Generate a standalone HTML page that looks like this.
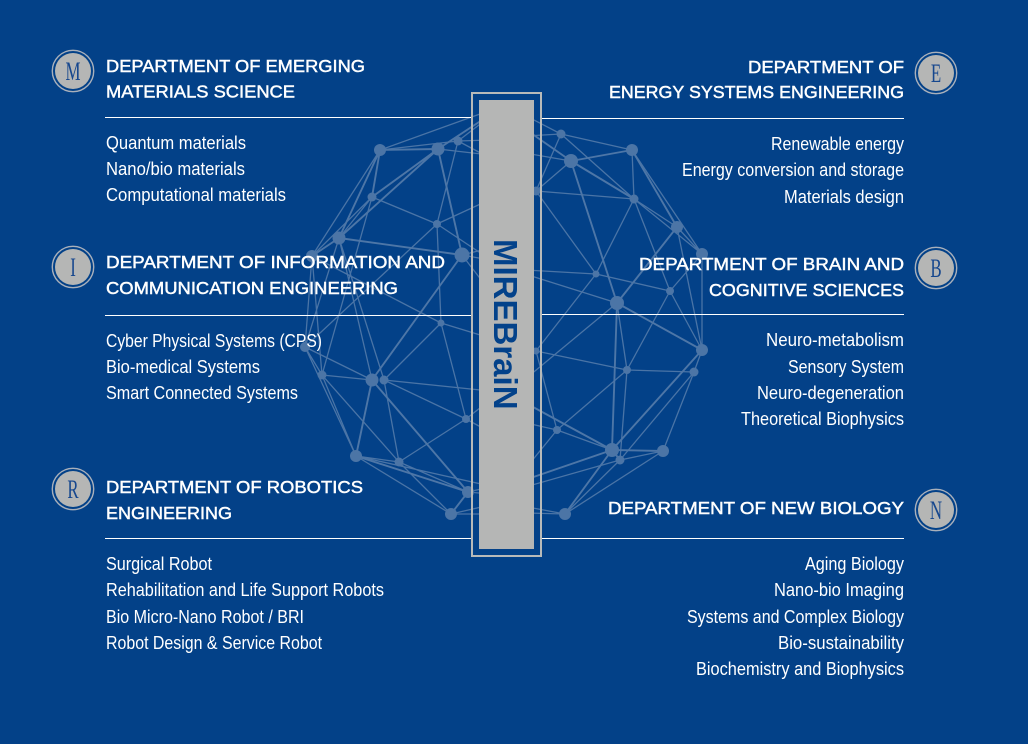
<!DOCTYPE html>
<html><head><meta charset="utf-8"><style>
html,body{margin:0;padding:0;background:#034188}
svg{display:block}
.h{font:17.5px "Liberation Sans",sans-serif;fill:#fff;stroke:#fff;stroke-width:.45}
.b{font:18px "Liberation Sans",sans-serif;fill:#fff}
.l{font:26px "Liberation Serif",serif;fill:#16478e}
</style></head><body>
<svg width="1028" height="744" viewBox="0 0 1028 744" xmlns="http://www.w3.org/2000/svg">
<rect width="1028" height="744" fill="#034188"/>
<g fill="none" stroke="#4a74a6" stroke-width="1.3">
<path d="M505 105L380 150M505 105L458 141M380 150L458 141M458 141L490 140M458 141L490 158M438 149L490 155M380 150L312 256M372 197L312 256M372 197L339 238M372 197L437 224M458 141L437 224M437 224L500 195M437 224L500 266M437 224L441 323M437 224L305 347M462 255L490 248M462 255L490 260M462 255L536 351M372 197L322 375M312 256L305 347M312 256L322 375M339 238L305 347M339 238L372 380M339 238L384 380M312 256L441 323M441 323L384 380M441 323L466 419M441 323L490 338"/>
<path d="M305 347L372 380M305 347L322 375M305 347L356 456M322 375L372 380M322 375L356 456M322 375L399 462M384 380L399 462M384 380L490 391M384 380L466 419M466 419L399 462M466 419L490 400M466 419L490 432M356 456L399 462M356 456L490 486M356 456L451 514M399 462L451 514M399 462L468 492M468 492L490 487M468 492L490 494M451 514L490 514M451 514L490 505"/>
<path d="M505 105L561 134M561 134L490 138M561 134L632 150M561 134L634 199M561 134L536 191M571 161L490 147M571 161L536 191M632 150L634 199M632 150L702 254M634 199L677 227M634 199L702 254M536 191L634 199M536 191L596 274M634 199L596 274M634 199L670 291M677 227L702 254M677 227L702 350M702 254L670 291M702 254L702 350M596 274L670 291M596 274L536 351M596 274L490 268M617 303L490 263M617 303L627 370M670 291L627 370M670 291L702 350M617 303L500 400"/>
<path d="M536 351L627 370M536 351L557 430M627 370L694 372M627 370L620 460M627 370L557 430M702 350L694 372M694 372L620 460M694 372L663 451M557 430L612 450M557 430L500 500M557 430L500 417M620 460L663 451M620 460L565 514M620 460L490 497M663 451L565 514M565 514L490 500M565 514L490 512"/>
</g>
<g fill="none" stroke="#4d76a7" stroke-width="1.9">
<path d="M380 150L438 149M438 149L505 105M438 149L372 197M438 149L339 238M438 149L462 255M339 238L462 255M339 238L312 256M380 150L339 238M380 150L372 197M462 255L372 380M372 380L356 456M372 380L468 492M356 456L468 492M468 492L451 514M571 161L632 150M571 161L634 199M571 161L505 115M571 161L617 303M677 227L617 303M632 150L677 227M617 303L702 350M617 303L612 450M702 350L612 450M612 450L663 451M612 450L620 460M612 450L565 514M612 450L490 492M612 450L533 407"/>
</g>
<g fill="#4c75a6">
<circle cx="380" cy="150" r="6"/><circle cx="438" cy="149" r="6.5"/><circle cx="458" cy="141" r="4.5"/><circle cx="372" cy="197" r="4.5"/><circle cx="437" cy="224" r="4"/><circle cx="339" cy="238" r="6.5"/><circle cx="462" cy="255" r="7.5"/><circle cx="312" cy="256" r="6"/><circle cx="305" cy="347" r="5"/><circle cx="322" cy="375" r="4.5"/><circle cx="372" cy="380" r="6.5"/><circle cx="384" cy="380" r="4.5"/><circle cx="441" cy="323" r="3.5"/><circle cx="356" cy="456" r="6"/><circle cx="399" cy="462" r="4.5"/><circle cx="466" cy="419" r="4"/><circle cx="468" cy="492" r="6"/><circle cx="451" cy="514" r="6"/>
<circle cx="561" cy="134" r="4.5"/><circle cx="571" cy="161" r="7"/><circle cx="632" cy="150" r="6"/><circle cx="536" cy="191" r="4.5"/><circle cx="634" cy="199" r="4.5"/><circle cx="677" cy="227" r="6"/><circle cx="702" cy="254" r="6"/><circle cx="596" cy="274" r="3.5"/><circle cx="670" cy="291" r="4"/><circle cx="617" cy="303" r="7"/><circle cx="536" cy="351" r="3.5"/><circle cx="702" cy="350" r="6"/><circle cx="627" cy="370" r="4"/><circle cx="694" cy="372" r="4.5"/><circle cx="557" cy="430" r="4"/><circle cx="612" cy="450" r="7"/><circle cx="620" cy="460" r="4.5"/><circle cx="663" cy="451" r="6"/><circle cx="565" cy="514" r="6"/>
</g>
<g stroke="#fff" stroke-width="1">
<path d="M105 117.5H472M542 118.5H904M105 315.5H472M542 314.5H904M105 538.5H472M542 538.5H904"/>
</g>
<rect x="472" y="93" width="69" height="463" fill="none" stroke="#b8bab9" stroke-width="2"/>
<rect x="479" y="100" width="55" height="449" fill="#b5b6b5"/>
<text transform="translate(494 239) rotate(90)" font-family="'Liberation Sans',sans-serif" font-weight="bold" font-size="33" fill="#03428a">MIREBraiN</text>

<g class="h">
<text x="106" y="72" textLength="259" lengthAdjust="spacingAndGlyphs">DEPARTMENT OF EMERGING</text>
<text x="106" y="97.5" textLength="189" lengthAdjust="spacingAndGlyphs">MATERIALS SCIENCE</text>
<text x="748" y="73" textLength="156" lengthAdjust="spacingAndGlyphs">DEPARTMENT OF</text>
<text x="609" y="98" textLength="295" lengthAdjust="spacingAndGlyphs">ENERGY SYSTEMS ENGINEERING</text>
<text x="106" y="268" textLength="339" lengthAdjust="spacingAndGlyphs">DEPARTMENT OF INFORMATION AND</text>
<text x="106" y="294" textLength="292" lengthAdjust="spacingAndGlyphs">COMMUNICATION ENGINEERING</text>
<text x="639" y="270" textLength="265" lengthAdjust="spacingAndGlyphs">DEPARTMENT OF BRAIN AND</text>
<text x="709" y="296" textLength="195" lengthAdjust="spacingAndGlyphs">COGNITIVE SCIENCES</text>
<text x="106" y="493" textLength="257" lengthAdjust="spacingAndGlyphs">DEPARTMENT OF ROBOTICS</text>
<text x="106" y="519" textLength="126" lengthAdjust="spacingAndGlyphs">ENGINEERING</text>
<text x="608" y="514" textLength="296" lengthAdjust="spacingAndGlyphs">DEPARTMENT OF NEW BIOLOGY</text>
</g>
<g class="b">
<text x="106" y="149" textLength="140" lengthAdjust="spacingAndGlyphs">Quantum materials</text>
<text x="106" y="175" textLength="139" lengthAdjust="spacingAndGlyphs">Nano/bio materials</text>
<text x="106" y="201" textLength="180" lengthAdjust="spacingAndGlyphs">Computational materials</text>
<text x="771" y="150" textLength="133" lengthAdjust="spacingAndGlyphs">Renewable energy</text>
<text x="682" y="176" textLength="222" lengthAdjust="spacingAndGlyphs">Energy conversion and storage</text>
<text x="784" y="203" textLength="120" lengthAdjust="spacingAndGlyphs">Materials design</text>
<text x="106" y="347" textLength="216" lengthAdjust="spacingAndGlyphs">Cyber Physical Systems (CPS)</text>
<text x="106" y="373" textLength="154" lengthAdjust="spacingAndGlyphs">Bio-medical Systems</text>
<text x="106" y="399" textLength="192" lengthAdjust="spacingAndGlyphs">Smart Connected Systems</text>
<text x="766" y="346" textLength="138" lengthAdjust="spacingAndGlyphs">Neuro-metabolism</text>
<text x="788" y="373" textLength="116" lengthAdjust="spacingAndGlyphs">Sensory System</text>
<text x="757" y="399" textLength="147" lengthAdjust="spacingAndGlyphs">Neuro-degeneration</text>
<text x="741" y="425" textLength="163" lengthAdjust="spacingAndGlyphs">Theoretical Biophysics</text>
<text x="106" y="570" textLength="106" lengthAdjust="spacingAndGlyphs">Surgical Robot</text>
<text x="106" y="596" textLength="278" lengthAdjust="spacingAndGlyphs">Rehabilitation and Life Support Robots</text>
<text x="106" y="623" textLength="198" lengthAdjust="spacingAndGlyphs">Bio Micro-Nano Robot / BRI</text>
<text x="106" y="649" textLength="216" lengthAdjust="spacingAndGlyphs">Robot Design &amp; Service Robot</text>
<text x="805" y="570" textLength="99" lengthAdjust="spacingAndGlyphs">Aging Biology</text>
<text x="774" y="596" textLength="130" lengthAdjust="spacingAndGlyphs">Nano-bio Imaging</text>
<text x="687" y="623" textLength="217" lengthAdjust="spacingAndGlyphs">Systems and Complex Biology</text>
<text x="778" y="649" textLength="126" lengthAdjust="spacingAndGlyphs">Bio-sustainability</text>
<text x="696" y="675" textLength="208" lengthAdjust="spacingAndGlyphs">Biochemistry and Biophysics</text>
</g>
<g fill="#b5b6b5">
<circle cx="73" cy="71" r="18"/><circle cx="936" cy="73" r="18"/><circle cx="73" cy="267" r="18"/><circle cx="936" cy="268" r="18"/><circle cx="73" cy="489" r="18"/><circle cx="936" cy="510" r="18"/>
</g>
<g fill="none" stroke="#a9b0bb" stroke-width="1.4">
<circle cx="73" cy="71" r="20.7"/><circle cx="936" cy="73" r="20.7"/><circle cx="73" cy="267" r="20.7"/><circle cx="936" cy="268" r="20.7"/><circle cx="73" cy="489" r="20.7"/><circle cx="936" cy="510" r="20.7"/>
</g>
<g class="l" text-anchor="middle">
<text transform="translate(73 80) scale(.65 1)">M</text>
<text transform="translate(936 82) scale(.65 1)">E</text>
<text transform="translate(73 276) scale(.65 1)">I</text>
<text transform="translate(936 277) scale(.65 1)">B</text>
<text transform="translate(73 498) scale(.65 1)">R</text>
<text transform="translate(936 519) scale(.65 1)">N</text>
</g>
</svg>
</body></html>
